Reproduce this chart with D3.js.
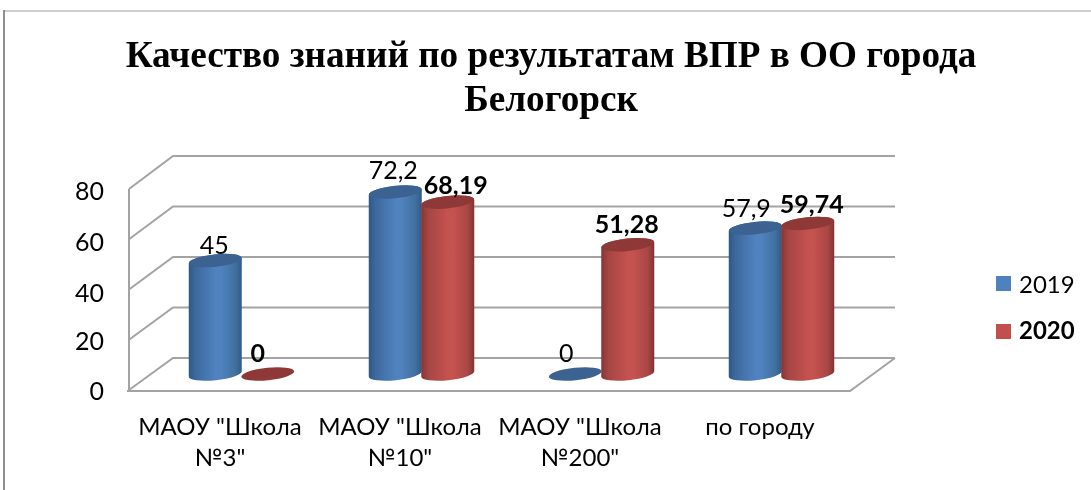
<!DOCTYPE html>
<html><head><meta charset="utf-8">
<script src="https://cdn.jsdelivr.net/npm/d3@7"></script>
<style>html,body{margin:0;padding:0;background:#fff;overflow:hidden}svg{display:block}</style>
</head><body><div id="c"></div>
<script>
const titleLines = ['Качество знаний по результатам ВПР в ОО города','Белогорск'];
const categories = ['МАОУ "Школа\n№3"','МАОУ "Школа\n№10"','МАОУ "Школа\n№200"','по городу'];
const seriesNames = ['2019','2020'];
const values2019 = [45,72.2,0,57.9];
const values2020 = [0,68.19,51.28,59.74];
const valueLabels2019 = ['45','72,2','0','57,9'];
const valueLabels2020 = ['0','68,19','51,28','59,74'];
const yTicks = [0,20,40,60,80];

const W=1091,H=490;
const svg=d3.select('#c').append('svg').attr('width',W).attr('height',H);
const sans='Lato, "Open Sans", sans-serif';
const defs=svg.append('defs');
defs.append('filter').attr('id','soft').attr('x',0).attr('y',0).attr('width',1).attr('height',1)
  .attr('filterUnits','userSpaceOnUse').attr('width',W).attr('height',H)
  .append('feGaussianBlur').attr('stdDeviation',0.45);
function grad(id,stops){
  const g=defs.append('linearGradient').attr('id',id).attr('x1',0).attr('x2',1).attr('y1',0).attr('y2',0);
  stops.forEach(([o,c])=>g.append('stop').attr('offset',o).attr('stop-color',c));
}
grad('gb',[[0,'#2f5785'],[.12,'#3c689c'],[.5,'#4f82be'],[.62,'#4f82be'],[.88,'#41709f'],[1,'#2f5a8a']]);
grad('gr',[[0,'#863634'],[.14,'#a64644'],[.5,'#c4524f'],[.62,'#c4524f'],[.88,'#a84644'],[1,'#7e3432']]);
const root=svg.append('g').attr('filter','url(#soft)');

// frame
root.append('line').attr('x1',4).attr('x2',W).attr('y1',11).attr('y2',11).attr('stroke','#bdbdbd').attr('stroke-width',1.6);
root.append('line').attr('x1',4).attr('x2',4).attr('y1',10).attr('y2',H).attr('stroke','#8f8f8f').attr('stroke-width',2);

// title
root.append('g').selectAll('text').data(titleLines).join('text')
  .attr('x',551).attr('y',(d,i)=>67+i*44).attr('text-anchor','middle')
  .attr('font-family','"Liberation Serif",serif').attr('font-weight','bold').attr('font-size',37.2).attr('fill','#000')
  .text(d=>d);

// scales
const yFront=d3.scaleLinear().domain([0,80]).range([390,189]);
const yBack=d3.scaleLinear().domain([0,80]).range([358,156]);
const yBar=d3.scaleLinear().domain([0,80]).range([374,172.4]);
const xGroup=d3.scaleBand().domain(d3.range(categories.length)).range([152,872]);
const xSeries=d3.scaleBand().domain(seriesNames).range([37,142]);
const xFL=129,xBL=173,xBR=895,xFR=850;

// grid
const grid=root.append('g').attr('fill','none').attr('stroke','#a3a3a3').attr('stroke-width',2);
yTicks.forEach(t=>{
  grid.append('polyline').attr('points',`${xFL},${yFront(t)} ${xBL},${yBack(t)} ${xBR},${yBack(t)}`);
});
grid.append('line').attr('x1',xFL).attr('x2',xFL).attr('y1',yFront(80)).attr('y2',yFront(0)+1);
grid.append('polyline').attr('points',`${xFL-2},${yFront(0)+1} ${xFR},${yFront(0)+1} ${xBR},${yBack(0)}`);

// y tick labels
const tickBase=[400,350,302,251,200];
root.append('g').selectAll('text').data(yTicks).join('text')
  .attr('x',104).attr('y',(d,i)=>tickBase[i]).attr('text-anchor','end')
  .attr('font-family',sans).attr('font-size',25).attr('fill','#000').text(d=>d);

// cylinders
const rx=26.5,ry=6.2,tilt=-6;
const dy=rx*Math.sin(-tilt*Math.PI/180);
function drawSeries(vals,name,gid,topC){
  const g=root.append('g');
  vals.forEach((v,i)=>{
    const cx=xGroup(i)+xSeries(name)+xSeries.bandwidth()/2;
    const yb=yBar(0),yt=yBar(v);
    if(v>0){
      g.append('path').attr('fill',`url(#${gid})`)
       .attr('d',`M${cx-rx},${yt+dy}L${cx-rx},${yb+dy}A${rx},${ry} ${tilt} 0 0 ${cx+rx},${yb-dy}L${cx+rx},${yt-dy}A${rx},${ry} ${tilt} 0 0 ${cx-rx},${yt+dy}Z`);
    }
    g.append('ellipse').attr('cx',0).attr('cy',0).attr('rx',rx).attr('ry',ry)
      .attr('transform',`translate(${cx},${yt}) rotate(${tilt})`).attr('fill',topC);
  });
}
drawSeries(values2019,'2019','gb','#3a6290');
drawSeries(values2020,'2020','gr','#8f3937');

// value labels
const nudge2019=[[-1,-7],[-2,-13],[-9,-12],[-9,-11]];
const nudge2020=[[-10,-12],[8,-8],[-1,-12],[4,-10]];
function labels(vals,texts,name,nudge,weight){
  root.append('g').selectAll('text').data(vals).join('text')
    .attr('x',(d,i)=>xGroup(i)+xSeries(name)+xSeries.bandwidth()/2+nudge[i][0])
    .attr('y',(d,i)=>yBar(d)+nudge[i][1])
    .attr('text-anchor','middle').attr('font-family',sans).attr('font-size',25).attr('font-weight',weight).attr('fill','#000')
    .text((d,i)=>texts[i]);
}
labels(values2019,valueLabels2019,'2019',nudge2019,'normal');
labels(values2020,valueLabels2020,'2020',nudge2020,'bold');

// category labels
const cat=root.append('g').attr('font-family',sans).attr('font-size',24).attr('fill','#000').attr('text-anchor','middle');
categories.forEach((c,i)=>{
  c.split('\n').forEach((line,j)=>{
    cat.append('text').attr('x',xGroup(i)+xGroup.bandwidth()/2-22).attr('y',435+j*31).text(line);
  });
});

// legend
const legColors=['#4f81bd','#c0504d'];
const leg=root.append('g');
seriesNames.forEach((s,i)=>{
  leg.append('rect').attr('x',996).attr('y',276+i*48).attr('width',15).attr('height',15).attr('fill',legColors[i]);
  leg.append('text').attr('x',1019).attr('y',293+i*46).attr('font-family',sans).attr('font-size',24)
    .attr('font-weight',i?'bold':'normal').attr('fill','#000').text(s);
});
</script></body></html>
